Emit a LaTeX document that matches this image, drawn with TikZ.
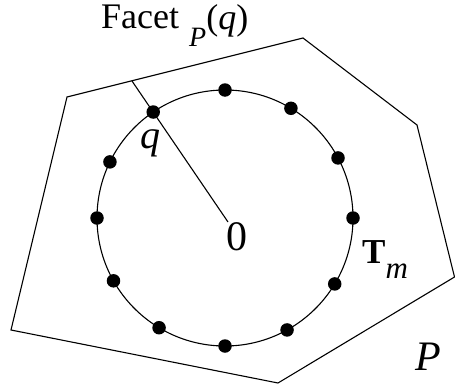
\documentclass[tikz,border=0pt]{standalone}
\usepackage{fontspec}
\setmainfont{Liberation Serif}
\usetikzlibrary{calc}
\begin{document}
\begin{tikzpicture}[x=1pt,y=-1pt,
  edge/.style={line width=1.1pt},
  dot/.style={circle,fill=black,inner sep=0pt,minimum size=13.5pt},
  lbl/.style={inner sep=0pt,anchor=base west}]
\useasboundingbox (0,0) rectangle (455,388);
% polygon P
\coordinate (v1) at (67,97);
\coordinate (v2) at (303,38);
\coordinate (v3) at (417,125);
\coordinate (v4) at (454.5,277);
\coordinate (v5) at (278,383);
\coordinate (v6) at (11,330);
\draw[edge,line join=miter] (v1) -- (v2) -- (v3) -- (v4) -- (v5) -- (v6) -- cycle;
% circle T_m
\coordinate (c) at (225,218);
\draw[edge] (c) circle[radius=128];
% facet line
\coordinate (f) at (132,81);
\coordinate (o) at (228,222);
\draw[edge] (f) -- (o);
% dots (angles negated because y axis points down)
\foreach \a [count=\i] in {90,59,28,0,-31,-61,-90,-121,-150.6,180,154} {
  \node[dot] (d\i) at ($(c)+(-\a:128)$) {};
}
\node[dot] (q) at ($(c)+(-124.1:128)$) {};
% labels
\node[lbl] (facet) at (101,28) {\fontsize{36}{38}\selectfont Facet\hspace{10pt}\raisebox{-18pt}{\fontsize{28}{30}\selectfont\itshape P}\raisebox{-1pt}{(\textit{q})}};
\node[lbl,anchor=base] (zero) at (237,250) {\fontsize{42}{44}\selectfont 0};
\node[lbl,anchor=base] (qlbl) at (150,148) {\fontsize{40}{42}\selectfont\itshape q};
\node[lbl] (tm) at (362,263) {\fontsize{35}{37}\selectfont\textbf{T}\raisebox{-15pt}{\fontsize{31}{33}\selectfont\itshape m}};
\node[lbl,anchor=base] (plbl) at (428,370) {\fontsize{42}{44}\selectfont\itshape P};
\end{tikzpicture}
\end{document}
